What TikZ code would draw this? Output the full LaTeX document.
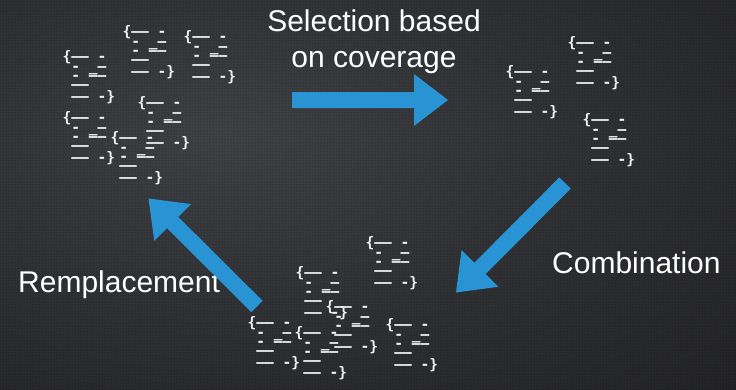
\documentclass[tikz,border=0pt]{standalone}
\usepackage{fontspec}
\setmainfont{Liberation Sans}
\newfontfamily\codefont{DejaVu Sans Mono Bold}
\usetikzlibrary{calc,patterns}
\definecolor{arrowblue}{RGB}{40,148,212}
\definecolor{codewhite}{RGB}{240,240,240}
\definecolor{bgA}{RGB}{64,65,68}
\definecolor{bgB}{RGB}{48,49,52}
\definecolor{bgC}{RGB}{32,32,34}
\definecolor{bgD}{RGB}{20,15,15}
\pgfdeclareradialshading{bgshade}{\pgfpoint{-10bp}{8bp}}{color(0bp)=(bgA); color(22bp)=(bgB); color(48bp)=(bgC); color(72bp)=(bgD); color(100bp)=(bgD)}
\pgfdeclarepatternformonly{cfdots}{\pgfpointorigin}{\pgfpoint{3pt}{3pt}}{\pgfpoint{3pt}{3pt}}{\pgfpathcircle{\pgfpoint{1.5pt}{1.5pt}}{0.7pt}\pgfusepath{fill}}
\newcommand\spc{\hphantom{x}}
\newcommand\codetext{\{––\spc-\\\spc-\spc\_–\\\spc-\spc––\\\spc––\\\spc––\spc-\}}
\newcommand\myarrow[2]{%
  \fill[arrowblue] ($(#1)!8pt!90:(#2)$) -- ($(#2)!34pt!(#1)!8pt!90:(#2)$) -- ($(#2)!34pt!(#1)!26pt!90:(#2)$) -- (#2) -- ($(#2)!34pt!(#1)!26pt!-90:(#2)$) -- ($(#2)!34pt!(#1)!8pt!-90:(#2)$) -- ($(#1)!8pt!-90:(#2)$) -- cycle;}
\tikzset{
  codeblk/.style={font=\codefont\fontsize{14.5}{9.3}\selectfont, text=codewhite, align=left, anchor=north west, inner sep=0pt},
  lbl/.style={text=white, inner sep=0pt, font=\fontsize{30}{35.6}\selectfont}
}
\begin{document}
\begin{tikzpicture}[x=1pt,y=-1pt]
\useasboundingbox (0,0) rectangle (736,389);
\fill[shading=bgshade] (0,0) rectangle (736,389);
\fill[pattern=cfdots, pattern color=black, opacity=0.35] (0,0) rectangle (736,389);
% code blocks: top-left cluster
\node[codeblk] (blkA) at (122.5,25.6) {\codetext};
\node[codeblk] (blkB) at (183.5,30.6) {\codetext};
\node[codeblk] (blkC) at (62.5,50.6) {\codetext};
\node[codeblk] (blkD) at (137.5,96.6) {\codetext};
\node[codeblk] (blkE) at (62.5,111.6) {\codetext};
\node[codeblk] (blkF) at (110.5,131.6) {\codetext};
% right cluster
\node[codeblk] (blkG) at (567.5,36.6) {\codetext};
\node[codeblk] (blkH) at (505.5,65.6) {\codetext};
\node[codeblk] (blkI) at (582.5,113.6) {\codetext};
% bottom cluster
\node[codeblk] (blkJ) at (365.5,236.6) {\codetext};
\node[codeblk] (blkK) at (295.5,266.6) {\codetext};
\node[codeblk] (blkL) at (325.5,300.6) {\codetext};
\node[codeblk] (blkM) at (247.5,316.6) {\codetext};
\node[codeblk] (blkN) at (294.5,326.6) {\codetext};
\node[codeblk] (blkO) at (385.5,318.6) {\codetext};
% labels
\node[lbl, anchor=north, align=center] (sel) at (374,10) {Selection based\\on coverage};
\node[lbl, anchor=base west] (comb) at (552,273) {Combination};
\node[lbl, anchor=base west] (rem) at (18,292) {Remplacement};
% arrows
\coordinate (a1t) at (292,100);
\coordinate (a1h) at (448,100);
\coordinate (a2t) at (565,183);
\coordinate (a2h) at (456,292.5);
\coordinate (a3t) at (257,306.5);
\coordinate (a3h) at (148.5,198.5);
\myarrow{a1t}{a1h}
\myarrow{a2t}{a2h}
\myarrow{a3t}{a3h}
\end{tikzpicture}
\end{document}
